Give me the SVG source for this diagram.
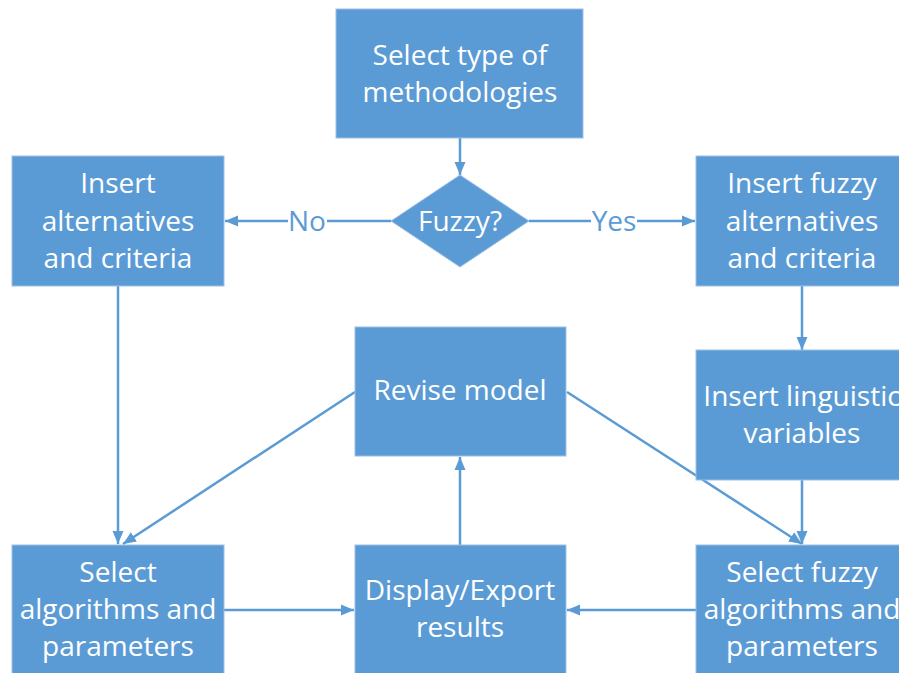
<svg xmlns="http://www.w3.org/2000/svg" width="899" height="673" viewBox="0 0 899 673">
<defs>
<style>
.box{fill:#5B9BD5;stroke:#9DC0E6;stroke-width:1}
.t{font-family:"Open Sans","Liberation Sans",sans-serif;font-size:28px;fill:#ffffff;text-anchor:middle}
.lbl{font-family:"Open Sans","Liberation Sans",sans-serif;font-size:28px;fill:#5B9BD5;text-anchor:middle}
.c{stroke:#5B9BD5;stroke-width:2.5;fill:none;marker-end:url(#ah)}
</style>
<marker id="ah" markerUnits="userSpaceOnUse" markerWidth="14" markerHeight="14" viewBox="0 0 14 14" refX="13" refY="7" orient="auto">
<path d="M0,1.5 L13,7 L0,12.5 Z" fill="#5B9BD5"/>
</marker>
</defs>
<rect width="899" height="673" fill="#ffffff"/>
<g id="connectors">
<line class="c" x1="460" y1="138" x2="460" y2="175"/>
<line class="c" x1="391" y1="221" x2="225" y2="221"/>
<line class="c" x1="529" y1="221" x2="695" y2="221"/>
<line class="c" x1="802" y1="286" x2="802" y2="350"/>
<line class="c" x1="118" y1="286" x2="118" y2="544"/>
<line class="c" x1="355" y1="392" x2="123" y2="544"/>
<line class="c" x1="567" y1="392" x2="802" y2="544"/>
<line class="c" x1="802" y1="480" x2="802" y2="544"/>
<line class="c" x1="224" y1="610" x2="354" y2="610"/>
<line class="c" x1="696" y1="610" x2="567" y2="610"/>
<line class="c" x1="460" y1="545" x2="460" y2="457"/>
<rect x="288" y="205" width="39" height="32" fill="#ffffff"/>
<text class="lbl" x="307" y="231">No</text>
<rect x="591" y="205" width="46" height="32" fill="#ffffff"/>
<text class="lbl" x="614" y="231">Yes</text>
</g>
<g id="n-select-type">
<rect class="box" x="336" y="9" width="247" height="129"/>
<text class="t" x="460" y="65">Select type of</text>
<text class="t" x="460" y="102">methodologies</text>
</g>
<g id="n-fuzzy">
<polygon class="box" points="460,175 529,221 460,267 391,221"/>
<text class="t" x="460" y="231">Fuzzy?</text>
</g>
<g id="n-insert-alt">
<rect class="box" x="12" y="156" width="212" height="130"/>
<text class="t" x="118" y="193">Insert</text>
<text class="t" x="118" y="231">alternatives</text>
<text class="t" x="118" y="268">and criteria</text>
</g>
<g id="n-insert-fuzzy-alt">
<rect class="box" x="696" y="156" width="212" height="130"/>
<text class="t" x="802" y="193">Insert fuzzy</text>
<text class="t" x="802" y="231">alternatives</text>
<text class="t" x="802" y="268">and criteria</text>
</g>
<g id="n-revise">
<rect class="box" x="355" y="327" width="211" height="129"/>
<text class="t" x="460" y="400">Revise model</text>
</g>
<g id="n-linguistic">
<rect class="box" x="696" y="350" width="212" height="130"/>
<text class="t" x="802" y="406">Insert linguistic</text>
<text class="t" x="802" y="443">variables</text>
</g>
<g id="n-select-alg">
<rect class="box" x="12" y="545" width="212" height="135"/>
<text class="t" x="118" y="582">Select</text>
<text class="t" x="118" y="619">algorithms and</text>
<text class="t" x="118" y="656">parameters</text>
</g>
<g id="n-display">
<rect class="box" x="355" y="545" width="211" height="135"/>
<text class="t" x="460" y="600">Display/Export</text>
<text class="t" x="460" y="637">results</text>
</g>
<g id="n-select-fuzzy-alg">
<rect class="box" x="696" y="545" width="212" height="135"/>
<text class="t" x="802" y="582">Select fuzzy</text>
<text class="t" x="802" y="619">algorithms and</text>
<text class="t" x="802" y="656">parameters</text>
</g>
</svg>
